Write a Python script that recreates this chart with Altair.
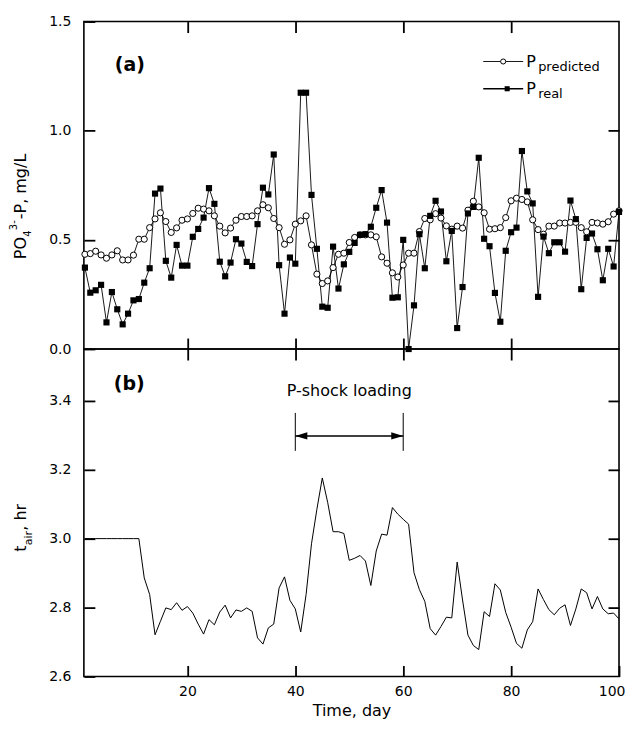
import altair as alt
import pandas as pd

# ---------------- data ----------------
days = list(range(1, 101))

p_real = [0.373, 0.258, 0.269, 0.294, 0.122, 0.261, 0.182, 0.113, 0.162, 0.223,
          0.229, 0.304, 0.370, 0.712, 0.735, 0.404, 0.327, 0.477, 0.382, 0.382,
          0.514, 0.550, 0.602, 0.737, 0.665, 0.400, 0.333, 0.396, 0.503, 0.483,
          0.399, 0.380, 0.572, 0.739, 0.708, 0.891, 0.384, 0.162, 0.419, 0.391,
          1.174, 1.174, 0.706, 0.459, 0.194, 0.189, 0.469, 0.277, 0.388, 0.445,
          0.486, 0.523, 0.526, 0.560, 0.647, 0.728, 0.579, 0.235, 0.237, 0.500,
          0.000, 0.200, 0.526, 0.370, 0.610, 0.679, 0.630, 0.402, 0.541, 0.096,
          0.284, 0.621, 0.651, 0.876, 0.505, 0.471, 0.257, 0.125, 0.450, 0.535,
          0.556, 0.907, 0.722, 0.667, 0.239, 0.515, 0.439, 0.489, 0.489, 0.446,
          0.680, 0.595, 0.274, 0.509, 0.529, 0.457, 0.315, 0.459, 0.378, 0.628]

p_pred = [0.434, 0.437, 0.448, 0.431, 0.416, 0.431, 0.450, 0.408, 0.408, 0.430,
          0.503, 0.503, 0.556, 0.596, 0.624, 0.584, 0.534, 0.555, 0.590, 0.596,
          0.621, 0.645, 0.641, 0.633, 0.610, 0.563, 0.532, 0.554, 0.590, 0.607,
          0.607, 0.610, 0.633, 0.661, 0.647, 0.598, 0.556, 0.480, 0.500, 0.572,
          0.587, 0.610, 0.477, 0.343, 0.300, 0.312, 0.373, 0.434, 0.439, 0.488,
          0.511, 0.523, 0.523, 0.523, 0.514, 0.422, 0.393, 0.349, 0.330, 0.385,
          0.439, 0.439, 0.538, 0.598, 0.592, 0.620, 0.600, 0.564, 0.549, 0.563,
          0.554, 0.636, 0.677, 0.651, 0.624, 0.549, 0.551, 0.556, 0.602, 0.679,
          0.691, 0.685, 0.674, 0.592, 0.547, 0.526, 0.563, 0.563, 0.577, 0.577,
          0.580, 0.580, 0.556, 0.537, 0.580, 0.577, 0.572, 0.583, 0.618, 0.633]

t_air = [3.000, 3.000, 3.000, 3.000, 3.000, 3.000, 3.000, 3.000, 3.000, 3.000,
         3.000, 2.886, 2.838, 2.721, 2.760, 2.799, 2.794, 2.814, 2.792, 2.803,
         2.784, 2.752, 2.723, 2.765, 2.750, 2.787, 2.807, 2.770, 2.793, 2.789,
         2.799, 2.789, 2.712, 2.694, 2.741, 2.752, 2.857, 2.889, 2.821, 2.796,
         2.729, 2.838, 2.985, 3.085, 3.176, 3.105, 3.020, 3.020, 3.015, 2.937,
         2.943, 2.951, 2.935, 2.864, 2.964, 3.013, 3.010, 3.090, 3.071, 3.056,
         3.042, 2.901, 2.852, 2.818, 2.739, 2.720, 2.745, 2.772, 2.770, 2.932,
         2.822, 2.720, 2.690, 2.678, 2.788, 2.774, 2.869, 2.851, 2.786, 2.743,
         2.696, 2.682, 2.735, 2.759, 2.854, 2.823, 2.794, 2.779, 2.798, 2.808,
         2.748, 2.796, 2.854, 2.843, 2.796, 2.832, 2.796, 2.782, 2.784, 2.767]

x_labels = [20, 40, 60, 80, 100]
x_ticks = [20, 40, 60, 80]
ya_labels = [0.0, 0.5, 1.0, 1.5]
ya_ticks = [0.5, 1.0]
yb_labels = [2.6, 2.8, 3.0, 3.2, 3.4]
yb_ticks = [2.8, 3.0, 3.2, 3.4]
shock = [40, 60]
shock_label = ["P-shock loading"]

# ---------------- style ----------------
W, H = 536, 328
FONT = "DejaVu Sans"
TK = 11  # inward tick length

df = pd.DataFrame({"day": days, "real": p_real, "pred": p_pred, "tair": t_air})
one = pd.DataFrame({"k": [0]})

xs = alt.Scale(domain=[0.81, 100], nice=False, zero=False)
ya = alt.Scale(domain=[0, 1.5], nice=False, zero=False)
yb = alt.Scale(domain=[2.6, 3.55], nice=False, zero=False)

common = dict(title=None, domain=False, grid=False, ticks=True, tickSize=TK,
              tickWidth=1.8, tickColor="black", tickOpacity=1, offset=-TK,
              labelOverlap=False, zindex=2)


def ax(values, orient, labels=True, **kw):
    d = dict(common)
    d.update(kw)
    return alt.Axis(values=values, orient=orient, labels=labels, **d)


# left / bottom (with labels) and right / top (ticks only), ticks pointing inward
ya_left = ax(ya_labels, "left", format=".1f", labelPadding=13, labelFontSize=14)
ya_right = ax(ya_ticks, "right", labels=False)
yb_left = ax(yb_labels, "left", format=".1f", labelPadding=13, labelFontSize=14)
yb_right = ax(yb_ticks, "right", labels=False)
x_top = ax(x_ticks, "top", labels=False)
xa_bottom = ax(x_ticks, "bottom", labels=False)
xb_bottom = ax(x_labels, "bottom", format="d", title="Time, day", labelPadding=8,
               labelFontSize=14, labelFlush=True, labelFlushOffset=6,
               titleFontSize=16, titleFontWeight="normal", titlePadding=4)


def txt(s, x, y, size, angle=None, weight="normal", align="left"):
    kw = dict(text=s, font=FONT, fontSize=size, fontWeight=weight, align=align,
              baseline="alphabetic", color="black")
    if angle is not None:
        kw["angle"] = angle
    return alt.Chart(one).mark_text(**kw).encode(x=alt.value(x), y=alt.value(y))


# ---------------- panel (a) ----------------
Xn = alt.X("day:Q", scale=xs, axis=None)

real_line = alt.Chart(df).mark_line(color="black", strokeWidth=0.9).encode(
    x=alt.X("day:Q", scale=xs, axis=xa_bottom),
    y=alt.Y("real:Q", scale=ya, axis=ya_left))
pred_line = alt.Chart(df).mark_line(color="black", strokeWidth=0.9).encode(
    x=alt.X("day:Q", scale=xs, axis=x_top),
    y=alt.Y("pred:Q", scale=ya, axis=ya_right))
pred_pts = alt.Chart(df).mark_point(shape="circle", filled=True, fill="white",
                                    stroke="black", strokeWidth=1, size=38,
                                    opacity=1).encode(
    x=Xn, y=alt.Y("pred:Q", scale=ya, axis=None))
real_pts = alt.Chart(df).mark_square(color="black", size=38, opacity=1).encode(
    x=Xn, y=alt.Y("real:Q", scale=ya, axis=None))

legend_a = [
    alt.Chart(one).mark_rule(color="black", strokeWidth=0.9).encode(
        x=alt.value(400), x2=alt.value(440), y=alt.value(40)),
    alt.Chart(one).mark_point(shape="circle", filled=True, fill="white",
                              stroke="black", strokeWidth=1, size=26,
                              opacity=1).encode(x=alt.value(420), y=alt.value(40)),
    txt("P", 443, 45.7, 16),
    txt("predicted", 455, 49.5, 13),
    alt.Chart(one).mark_rule(color="black", strokeWidth=1.4).encode(
        x=alt.value(400), x2=alt.value(440), y=alt.value(67.3)),
    alt.Chart(one).mark_square(color="black", size=26, opacity=1).encode(
        x=alt.value(424), y=alt.value(67.3)),
    txt("P", 443, 73, 16),
    txt("real", 455, 76.8, 13),
]

ytitle_a = [
    txt("PO", -58, 238, 16, angle=270),
    txt("4", -53, 215.5, 10, angle=270),
    txt("3-", -67, 209, 10, angle=270),
    txt("-P, mg/L", -58, 198, 16, angle=270),
]

panel_a = alt.layer(
    real_line, pred_line, pred_pts, real_pts,
    txt("(a)", 31, 50, 19, weight="bold"),
    *legend_a, *ytitle_a,
).resolve_axis(x="independent", y="independent").properties(width=W, height=H)

# ---------------- panel (b) ----------------
tair_line = alt.Chart(df).mark_line(color="black", strokeWidth=1).encode(
    x=alt.X("day:Q", scale=xs, axis=xb_bottom),
    y=alt.Y("tair:Q", scale=yb, axis=yb_left))
tair_frame = alt.Chart(df).mark_line(color="black", strokeWidth=1, opacity=0).encode(
    x=alt.X("day:Q", scale=xs, axis=x_top),
    y=alt.Y("tair:Q", scale=yb, axis=yb_right))

sh = pd.DataFrame({"d": shock})
sh_pair = pd.DataFrame({"a": [shock[0]], "b": [shock[1]]})
sh_mid = pd.DataFrame({"m": [(shock[0] + shock[1]) / 2], "t": shock_label})

annot_b = [
    alt.Chart(sh).mark_rule(color="black", strokeWidth=1).encode(
        x=alt.X("d:Q", scale=xs, axis=None), y=alt.value(64), y2=alt.value(102)),
    alt.Chart(sh_pair).mark_rule(color="black", strokeWidth=1.5).encode(
        x=alt.X("a:Q", scale=xs, axis=None), x2="b:Q", y=alt.value(87)),
    alt.Chart(sh.iloc[[0]]).mark_point(shape="M0,0 L2,-0.6 L2,0.6 Z", filled=True,
                                       color="black", size=144, opacity=1).encode(
        x=alt.X("d:Q", scale=xs, axis=None), y=alt.value(87)),
    alt.Chart(sh.iloc[[1]]).mark_point(shape="M0,0 L-2,-0.6 L-2,0.6 Z", filled=True,
                                       color="black", size=144, opacity=1).encode(
        x=alt.X("d:Q", scale=xs, axis=None), y=alt.value(87)),
    alt.Chart(sh_mid).mark_text(font=FONT, fontSize=16, align="center",
                                baseline="alphabetic", color="black").encode(
        x=alt.X("m:Q", scale=xs, axis=None), y=alt.value(47), text="t:N"),
]

ytitle_b = [
    txt("t", -58, 203, 16, angle=270),
    txt("air", -52, 196.5, 11, angle=270),
    txt(", hr", -58, 182, 16, angle=270),
]

panel_b = alt.layer(
    tair_line, tair_frame,
    txt("(b)", 30, 41, 19, weight="bold"),
    *annot_b, *ytitle_b,
).resolve_axis(x="independent", y="independent").properties(width=W, height=H)

chart = alt.vconcat(panel_a, panel_b, spacing=0, bounds="flush").properties(
    padding={"left": 0, "top": 5, "right": 0, "bottom": 0}
).configure_axis(
    labelFont=FONT, titleFont=FONT, labelColor="black", titleColor="black"
).configure_view(
    stroke="black", strokeWidth=1.6
)

chart.save("out.html", embed_options={"renderer": "svg", "actions": False})
